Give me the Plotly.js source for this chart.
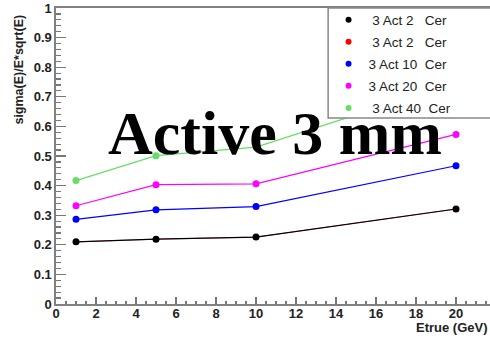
<!DOCTYPE html>
<html>
<head>
<meta charset="utf-8">
<script src="https://cdn.plot.ly/plotly-3.0.1.min.js"></script>
<style>html,body{margin:0;padding:0;background:#fff;}#chart{width:490px;height:338px;}</style>
</head>
<body>
<div id="chart"></div>
<script>
// Data
var energies = [1, 5, 10, 20];
var seriesNames = ["\u00a03 Act 2\u00a0\u00a0\u00a0Cer", "\u00a03 Act 2\u00a0\u00a0\u00a0Cer", "3 Act 10\u00a0\u00a0Cer", "3 Act 20\u00a0\u00a0Cer", "\u00a03 Act 40\u00a0\u00a0Cer"];
var seriesColors = ["#000000", "#ff0000", "#0000ff", "#ff00ff", "#66dd66"];
var act2Black = [0.210, 0.219, 0.226, 0.321];
var act2Red   = [0.210, 0.219, 0.226, 0.321];
var act10     = [0.286, 0.318, 0.329, 0.467];
var act20     = [0.332, 0.403, 0.406, 0.573];
var act40     = [0.417, 0.501, 0.530, 0.748];
var seriesValues = [act2Black, act2Red, act10, act20, act40];
var drawOrder = [1, 0, 2, 3, 4]; // red lies beneath black
var yTitle = "sigma(E)/E*sqrt(E)";
var xTitle = "Etrue (GeV)";
var bigLabel = "Active 3 mm";

var traces = [];
drawOrder.forEach(function (i) {
  var hidden = (i === 1);
  traces.push({
    x: energies, y: seriesValues[i], type: "scatter", mode: "lines+markers",
    line: {color: seriesColors[i], width: hidden ? 0.6 : 1.2},
    marker: {color: seriesColors[i], size: hidden ? 4 : 7},
    showlegend: false, hoverinfo: "skip"
  });
});
// legend-only entries (marker only, as in the reference)
seriesNames.forEach(function (n, i) {
  traces.push({
    x: [null], y: [null], type: "scatter", mode: "markers", name: n,
    legendgroup: "g" + i,
    marker: {color: seriesColors[i], size: 6}
  });
});

var tickFont = {family: "Liberation Sans, Arial, sans-serif", size: 13, color: "#222", weight: "bold"};

var layout = {
  width: 490, height: 338,
  margin: {l: 56, r: 0, t: 8, b: 34},
  paper_bgcolor: "#fff", plot_bgcolor: "#fff",
  showlegend: true,
  xaxis: {
    range: [0, 21.7], dtick: 2, tick0: 0,
    ticks: "inside", ticklen: 7, tickcolor: "#777", tickwidth: 1.2,
    minor: {dtick: 0.5, ticks: "inside", ticklen: 3.5, tickcolor: "#777", tickwidth: 1.2},
    showline: true, linecolor: "#808080", linewidth: 1.6, mirror: true,
    showgrid: false, zeroline: false, tickfont: tickFont, ticklabelstandoff: -3
  },
  yaxis: {
    range: [0, 1], dtick: 0.1, tick0: 0,
    ticks: "inside", ticklen: 10, tickcolor: "#777", tickwidth: 1.2,
    minor: {dtick: 0.02, ticks: "inside", ticklen: 5, tickcolor: "#777", tickwidth: 1.2},
    showline: true, linecolor: "#808080", linewidth: 1.6,
    showgrid: false, zeroline: false, tickfont: tickFont
  },
  legend: {
    x: 0.628, y: 1.012, xanchor: "left", yanchor: "top",
    bgcolor: "rgba(0,0,0,0)", borderwidth: 0,
    font: {family: "Liberation Sans, Arial, sans-serif", size: 13.5, color: "#222"},
    traceorder: "grouped", tracegroupgap: 1.5
  },
  shapes: [
    {type: "rect", xref: "paper", yref: "paper", x0: 0.627, x1: 1.05, y0: 0.628, y1: 1,
     fillcolor: "#fff", line: {color: "#888", width: 1.5}, layer: "above"}
  ],
  annotations: [
    {text: bigLabel, xref: "paper", yref: "paper", x: 0.505, y: 0.577, xanchor: "center", yanchor: "middle",
     showarrow: false, font: {family: "Liberation Serif, Times New Roman, serif", size: 62, color: "#000", weight: "bold"}},
    {text: yTitle, xref: "paper", yref: "paper", x: -0.085, y: 0.985, xanchor: "center", yanchor: "top", textangle: -90,
     showarrow: false, font: {family: "Liberation Sans, Arial, sans-serif", size: 12.5, color: "#222", weight: "bold"}},
    {text: xTitle, xref: "paper", yref: "paper", x: 1, y: -0.048, xanchor: "right", yanchor: "top",
     showarrow: false, font: {family: "Liberation Sans, Arial, sans-serif", size: 13, color: "#222", weight: "bold"}}
  ]
};

Plotly.newPlot("chart", traces, layout, {staticPlot: true, displayModeBar: false});
</script>
</body>
</html>
